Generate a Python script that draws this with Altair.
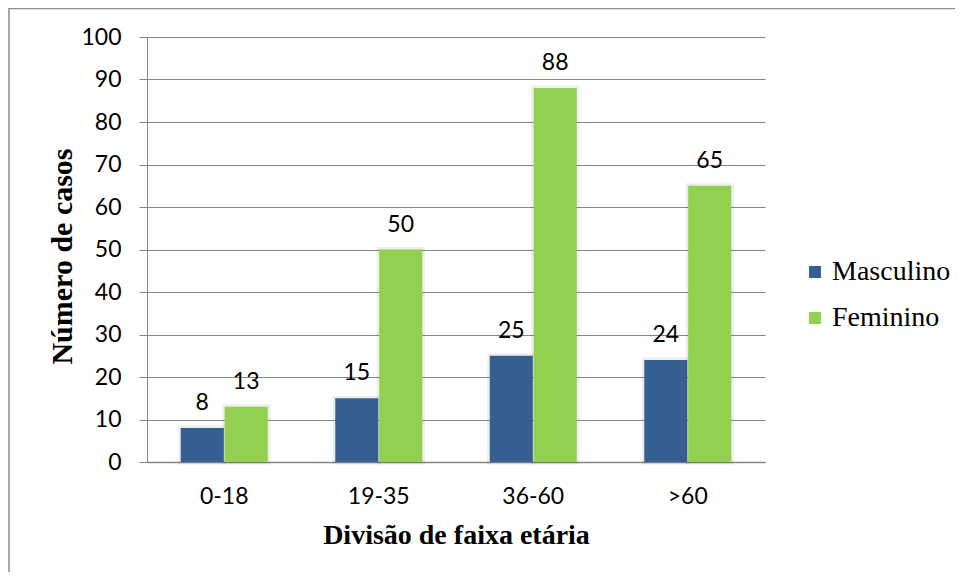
import altair as alt
import pandas as pd

categories = ["0-18", "19-35", "36-60", ">60"]
series = ["Masculino", "Feminino"]
masculino = [8, 15, 25, 24]
feminino = [13, 50, 88, 65]
colors = ["#365F91", "#92D050"]
y_ticks = list(range(0, 101, 10))

rows = []
for i, c in enumerate(categories):
    rows.append({"faixa": c, "serie": "Masculino", "casos": masculino[i]})
    rows.append({"faixa": c, "serie": "Feminino", "casos": feminino[i]})
df = pd.DataFrame(rows)

W, H = 618, 425

x_enc = alt.X(
    "faixa:N",
    sort=categories,
    scale=alt.Scale(paddingInner=0.437, paddingOuter=0.2185),
    axis=alt.Axis(
        title="Divisão de faixa etária",
        titleFont="Liberation Serif",
        titleFontWeight="bold",
        titleFontSize=28,
        titleColor="#000000",
        titleBaseline="alphabetic",
        titleY=81,
        labelFont="Lato",
        labelFontSize=23,
        labelColor="#000000",
        labelAngle=0,
        labelPadding=23,
        ticks=False,
        domainColor="#868686",
        domainWidth=1.5,
        grid=False,
    ),
)
y_enc = alt.Y(
    "casos:Q",
    scale=alt.Scale(domain=[0, 100], nice=False),
    axis=alt.Axis(
        values=y_ticks,
        title="Número de casos",
        titleFont="Liberation Serif",
        titleFontWeight="bold",
        titleFontSize=30,
        titleColor="#000000",
        titleAngle=-90,
        titleAlign="center",
        titleBaseline="middle",
        titleX=-85,
        titleY=219,
        labelFont="Lato",
        labelFontSize=23,
        labelColor="#000000",
        labelPadding=18,
        tickSize=8,
        tickColor="#868686",
        domainColor="#868686",
        gridColor="#868686",
        gridWidth=1,
    ),
)
xoff = alt.XOffset("serie:N", sort=series, scale=alt.Scale(paddingInner=0.02))
color_enc = alt.Color(
    "serie:N",
    sort=series,
    scale=alt.Scale(domain=series, range=colors),
    legend=alt.Legend(
        title=None,
        orient="none",
        legendX=654,
        legendY=221,
        symbolType="square",
        symbolSize=144,
        symbolStrokeWidth=0,
        labelFont="Liberation Serif",
        labelFontSize=28,
        labelColor="#000000",
        labelOffset=3,
        rowPadding=18,
    ),
)

base = alt.Chart(df).encode(x=x_enc, xOffset=xoff, y=y_enc)

shadow = base.mark_bar(
    fill="#000000", fillOpacity=0.0, stroke="#000000", strokeOpacity=0.07, strokeWidth=5
)
bars = base.mark_bar().encode(color=color_enc)
labels = base.mark_text(
    font="Lato", fontSize=23, baseline="alphabetic", dy=-18, color="#000000"
).encode(text="casos:Q")

border = alt.Chart(pd.DataFrame({"a": [0]})).mark_rect(
    fill=None, stroke="#8c8c8c", strokeWidth=1.5
).encode(
    x=alt.value(-138), x2=alt.value(1000), y=alt.value(-28.5), y2=alt.value(800)
)

chart = (
    alt.layer(border, shadow, bars, labels)
    .properties(
        width=W,
        height=H,
        padding={"left": 139, "top": 29, "right": 190, "bottom": 110},
        autosize=alt.AutoSizeParams(type="none"),
        background="#ffffff",
    )
    .configure_view(stroke=None)
)

chart.save("out.html", embed_options={"renderer": "svg", "actions": False})
